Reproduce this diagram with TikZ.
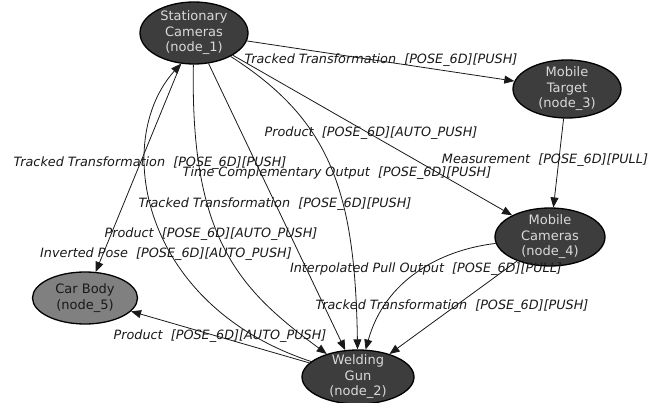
\documentclass[tikz,border=0pt]{standalone}
\usepackage{fontspec}
\setmainfont{DejaVu Sans}
\usetikzlibrary{shapes.geometric,arrows.meta}
\begin{document}
\begin{tikzpicture}[x=1pt,y=-1pt,
  unit/.style={ellipse, draw=black, line width=1.3pt, fill=black!76,
    text=black!15, inner sep=-6pt, align=center,
    font=\fontsize{13}{15.5}\selectfont},
  bodyunit/.style={unit, fill=black!50, text=black!90},
  link/.style={draw=black!90, line width=0.8pt,
    -{Triangle[length=10pt,width=8pt]}},
  lbl/.style={font=\fontsize{12.8}{15}\selectfont\itshape, text=black!90,
    inner sep=0pt}
]
\useasboundingbox (0,0) rectangle (666,403);

% components of the tracking setup
\node[unit, minimum width=108, minimum height=62] (n1) at (194,33) {Stationary\\Cameras\\(node\_1)};
\node[unit, minimum width=108, minimum height=58] (n3) at (567,89) {Mobile\\Target\\(node\_3)};
\node[unit, minimum width=110, minimum height=58] (n4) at (550,237) {Mobile\\Cameras\\(node\_4)};
\node[bodyunit, minimum width=105, minimum height=52] (n5) at (85,298) {Car Body\\(node\_5)};
\node[unit, minimum width=112, minimum height=54] (n2) at (358,377) {Welding\\Gun\\(node\_2)};

% data flows
\draw[link] (n1) -- (n3);
\draw[link] (n3) -- (n4);
\draw[link] (n1) -- (n4);
\draw[link] (n1.247) -- (n5);
\draw[link] (n1) -- (n2);
\draw[link] (n1) .. controls (190,240) and (240,290) .. (n2);
\draw[link] (n1) .. controls (330,120) and (355,190) .. (n2);
\draw[link] (n4) .. controls (440,250) and (385,280) .. (n2);
\draw[link] (n4) -- (n2);
\draw[link] (n2) .. controls (140,305) and (112,140) .. (n1.247);
\draw[link] (n2) -- (n5);

% flow labels
\node[lbl] (l1) at (381,60) {Tracked Transformation~~[POSE\_6D][PUSH]};
\node[lbl] (l2) at (371,133) {Product~~[POSE\_6D][AUTO\_PUSH]};
\node[lbl] (l3) at (545,160) {Measurement~~[POSE\_6D][PULL]};
\node[lbl] (l4) at (150,163) {Tracked Transformation~~[POSE\_6D][PUSH]};
\node[lbl] (l5) at (337,173) {Time Complementary Output~~[POSE\_6D][PUSH]};
\node[lbl] (l6) at (275,204) {Tracked Transformation~~[POSE\_6D][PUSH]};
\node[lbl] (l7) at (211,234) {Product~~[POSE\_6D][AUTO\_PUSH]};
\node[lbl] (l8) at (166,254) {Inverted Pose~~[POSE\_6D][AUTO\_PUSH]};
\node[lbl] (l9) at (426,269) {Interpolated Pull Output~~[POSE\_6D][PULL]};
\node[lbl] (l10) at (452,306) {Tracked Transformation~~[POSE\_6D][PUSH]};
\node[lbl] (l11) at (220,336) {Product~~[POSE\_6D][AUTO\_PUSH]};
\end{tikzpicture}
\end{document}
